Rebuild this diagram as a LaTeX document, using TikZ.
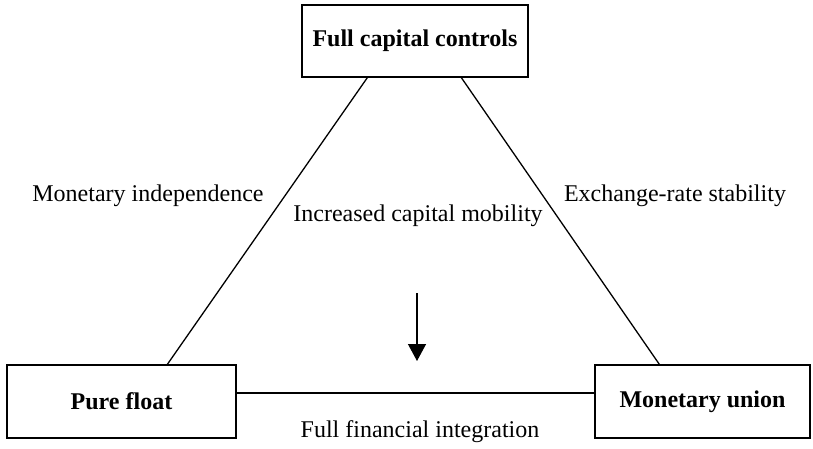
\documentclass[tikz,border=0pt]{standalone}
\usepackage{fontspec}
\setmainfont{Liberation Serif}
\usetikzlibrary{arrows.meta,calc}
\begin{document}
\begin{tikzpicture}[x=1pt,y=-1pt,
  regimebox/.style={draw,line width=1.3pt,inner sep=0pt,font=\fontsize{24}{28}\selectfont\bfseries},
  lbl/.style={font=\fontsize{24}{28}\selectfont,inner sep=0pt},
  edge/.style={line width=1.3pt}]
\useasboundingbox (0,0) rectangle (813,448);
\node[regimebox,minimum width=226pt,minimum height=72pt] (top) at (415,41) {Full capital controls};
\node[regimebox,minimum width=229pt,minimum height=73pt] (pf) at (121.5,401.5) {Pure float};
\node[regimebox,minimum width=215pt,minimum height=73pt] (mu) at (702.5,401.5) {Monetary union};
\path (top.south west) ++(66,0) coordinate (tl);
\path (top.south west) ++(160,0) coordinate (tr);
\path (pf.north west) ++(161,0) coordinate (pl);
\path (mu.north west) ++(65,0) coordinate (mr);
\draw[edge] (tl) -- (pl);
\draw[edge] (tr) -- (mr);
\draw[edge] ($(pf.east)+(0,-8.5)$) -- ($(mu.west)+(0,-8.5)$);
\node[lbl] (mi) at (148,196) {Monetary independence};
\node[lbl] (ers) at (675,196) {Exchange-rate stability};
\node[lbl] (icm) at (418,216) {Increased capital mobility};
\node[lbl] (ffi) at (420,432) {Full financial integration};
\coordinate (as) at (417,293);
\coordinate (ae) at (417,361);
\draw[edge,-{Triangle[width=18pt,length=17pt]}] (as) -- (ae);
\end{tikzpicture}
\end{document}
